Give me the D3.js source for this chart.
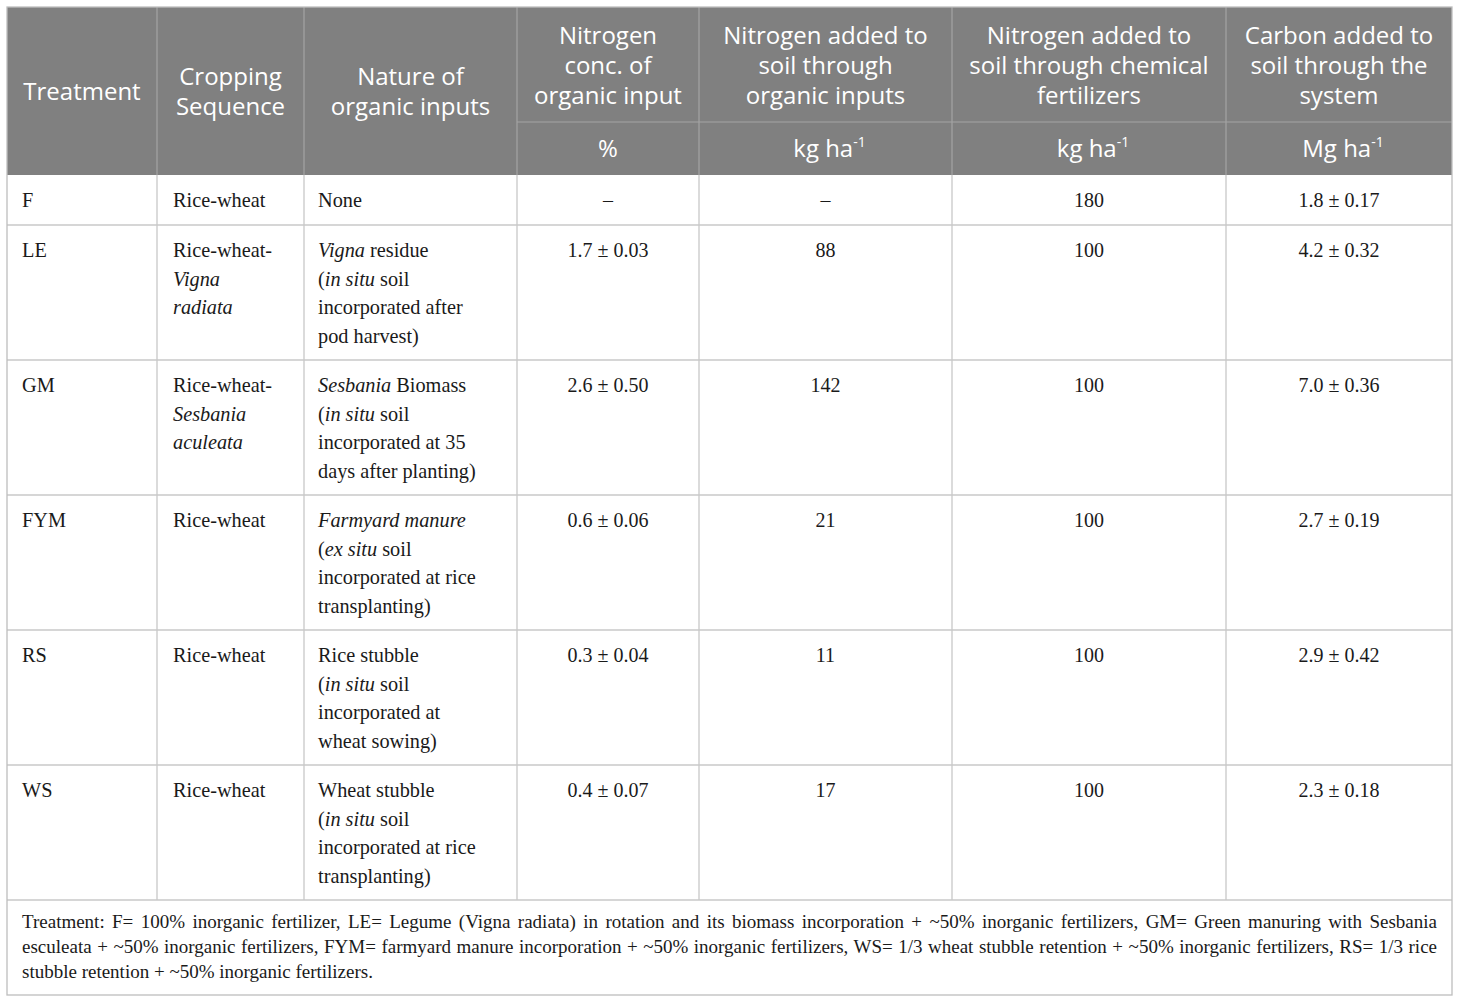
<!DOCTYPE html>
<html><head><meta charset="utf-8">
<script src="https://cdn.jsdelivr.net/npm/d3@7"></script>
<style>html,body{margin:0;padding:0;background:#fff;}</style>
</head><body>
<svg id="chart" width="1460" height="1002"></svg>
<script>
// ---- data ----
const headerTitles = [
  ["Treatment"],
  ["Cropping", "Sequence"],
  ["Nature of", "organic inputs"],
  ["Nitrogen", "conc. of", "organic input"],
  ["Nitrogen added to", "soil through", "organic inputs"],
  ["Nitrogen added to", "soil through chemical", "fertilizers"],
  ["Carbon added to", "soil through the", "system"]
];
const headerUnits = [null, null, null, ["%", null], ["kg ha", "-1"], ["kg ha", "-1"], ["Mg ha", "-1"]];
const treatments = ["F", "LE", "GM", "FYM", "RS", "WS"];
const sequences = [
  ["Rice-wheat"],
  ["Rice-wheat-", "*Vigna*", "*radiata*"],
  ["Rice-wheat-", "*Sesbania*", "*aculeata*"],
  ["Rice-wheat"],
  ["Rice-wheat"],
  ["Rice-wheat"]
];
const organicInputs = [
  ["None"],
  ["*Vigna* residue", "(*in situ* soil", "incorporated after", "pod harvest)"],
  ["*Sesbania* Biomass", "(*in situ* soil", "incorporated at 35", "days after planting)"],
  ["*Farmyard manure*", "(*ex situ* soil", "incorporated at rice", "transplanting)"],
  ["Rice stubble", "(*in situ* soil", "incorporated at", "wheat sowing)"],
  ["Wheat stubble", "(*in situ* soil", "incorporated at rice", "transplanting)"]
];
const nConc = ["–", "1.7 ± 0.03", "2.6 ± 0.50", "0.6 ± 0.06", "0.3 ± 0.04", "0.4 ± 0.07"];
const nOrganic = ["–", "88", "142", "21", "11", "17"];
const nChemical = ["180", "100", "100", "100", "100", "100"];
const carbonAdded = ["1.8 ± 0.17", "4.2 ± 0.32", "7.0 ± 0.36", "2.7 ± 0.19", "2.9 ± 0.42", "2.3 ± 0.18"];
const footnoteLines = [
  "Treatment: F= 100% inorganic fertilizer, LE= Legume (Vigna radiata) in rotation and its biomass incorporation + ~50% inorganic fertilizers, GM= Green manuring with Sesbania",
  "esculeata + ~50% inorganic fertilizers, FYM= farmyard manure incorporation + ~50% inorganic fertilizers, WS= 1/3 wheat stubble retention + ~50% inorganic fertilizers, RS= 1/3 rice",
  "stubble retention + ~50% inorganic fertilizers."
];

// ---- layout ----
const colEdges = [7, 157, 304, 517, 699, 952, 1226, 1452];
const headTop = 7, headMid = 122, headBottom = 175;
const rowHeights = [50, 135, 135, 135, 135, 135];
const footBottom = 995;
const rowEdges = [headBottom];
rowHeights.forEach(h => rowEdges.push(rowEdges[rowEdges.length - 1] + h));
const footTop = rowEdges[rowEdges.length - 1];

const svg = d3.select("#chart");
const headFont = "'Open Sans', 'Noto Sans', sans-serif";
const bodyFont = "'Liberation Serif', 'Times New Roman', serif";
const headBg = "#808080", headLine = "#a3a3a3", bodyLine = "#c8c8c8";

// header background
svg.append("rect").attr("x", colEdges[0]).attr("y", headTop)
  .attr("width", colEdges[7] - colEdges[0]).attr("height", headBottom - headTop)
  .attr("fill", headBg);

// header lines
const hl = svg.append("g").attr("stroke", headLine).attr("stroke-width", 1.2);
colEdges.slice(1, 7).forEach(x => hl.append("line").attr("x1", x).attr("x2", x).attr("y1", headTop).attr("y2", headBottom));
hl.append("line").attr("x1", colEdges[3]).attr("x2", colEdges[7]).attr("y1", headMid).attr("y2", headMid);

// header text
const lh = 30;
headerTitles.forEach((lines, i) => {
  const cx = (colEdges[i] + colEdges[i + 1]) / 2;
  const bottom = i < 3 ? headBottom : headMid;
  const cy = (headTop + bottom) / 2 + (i < 3 ? 0 : 0.5);
  const t = svg.append("text").attr("font-family", headFont).attr("font-size", 24)
    .attr("fill", "#fff").attr("text-anchor", "middle");
  lines.forEach((ln, k) => {
    t.append("tspan").attr("x", cx)
      .attr("y", cy + (k - (lines.length - 1) / 2) * lh + 8.5).text(ln);
  });
});
headerUnits.forEach((u, i) => {
  if (!u) return;
  const cx = (colEdges[i] + colEdges[i + 1]) / 2;
  const cy = (headMid + headBottom) / 2 + 8.5;
  const t = svg.append("text").attr("font-family", headFont).attr("font-size", 24)
    .attr("fill", "#fff").attr("text-anchor", "middle").attr("x", cx + (u[1] ? 4 : 0)).attr("y", cy);
  t.append("tspan").text(u[0]);
  if (u[1]) t.append("tspan").attr("font-size", 14).attr("dy", -10).text(u[1]);
});

// body grid
const bl = svg.append("g").attr("stroke", bodyLine).attr("stroke-width", 1.3);
rowEdges.slice(1).forEach(y => bl.append("line").attr("x1", colEdges[0]).attr("x2", colEdges[7]).attr("y1", y).attr("y2", y));
colEdges.slice(1, 7).forEach(x => bl.append("line").attr("x1", x).attr("x2", x).attr("y1", headBottom).attr("y2", footTop));
// outer border
svg.append("rect").attr("x", colEdges[0]).attr("y", headTop)
  .attr("width", colEdges[7] - colEdges[0]).attr("height", footBottom - headTop)
  .attr("fill", "none").attr("stroke", "#bdbdbd").attr("stroke-width", 1.3);

// rich text helper
function richLine(textSel, str, x, y) {
  const parts = str.split("*");
  const line = textSel.append("tspan").attr("x", x).attr("y", y);
  parts.forEach((p, k) => {
    if (!p) return;
    line.append("tspan").attr("font-style", k % 2 === 1 ? "italic" : "normal").text(p);
  });
}
const bodyLH = 28.5;
const bodyColor = "#1a1a1a";
const leftCols = [treatments.map(d => [d]), sequences, organicInputs];
const centerCols = [nConc, nOrganic, nChemical, carbonAdded];
const pad = [15, 16, 14];

treatments.forEach((_, r) => {
  const y0 = rowEdges[r] + 32;
  leftCols.forEach((col, c) => {
    const t = svg.append("text").attr("font-family", bodyFont).attr("font-size", 20.3).attr("fill", bodyColor);
    col[r].forEach((ln, k) => richLine(t, ln, colEdges[c] + pad[c], y0 + k * bodyLH));
  });
  centerCols.forEach((col, j) => {
    const c = j + 3;
    svg.append("text").attr("font-family", bodyFont).attr("font-size", 20).attr("fill", bodyColor)
      .attr("text-anchor", "middle").attr("x", (colEdges[c] + colEdges[c + 1]) / 2).attr("y", y0)
      .text(col[r]);
  });
});

// footnote (justified)
const fx0 = 22, fx1 = 1437;
footnoteLines.forEach((ln, k) => {
  const t = svg.append("text").attr("font-family", bodyFont).attr("font-size", 19).attr("fill", bodyColor)
    .attr("x", fx0).attr("y", footTop + 28 + k * 25).text(ln);
  if (k < footnoteLines.length - 1) {
    const w = t.node().getComputedTextLength();
    const spaces = (ln.match(/ /g) || []).length;
    t.attr("word-spacing", (fx1 - fx0 - w) / spaces);
  }
});
</script>
</body></html>
